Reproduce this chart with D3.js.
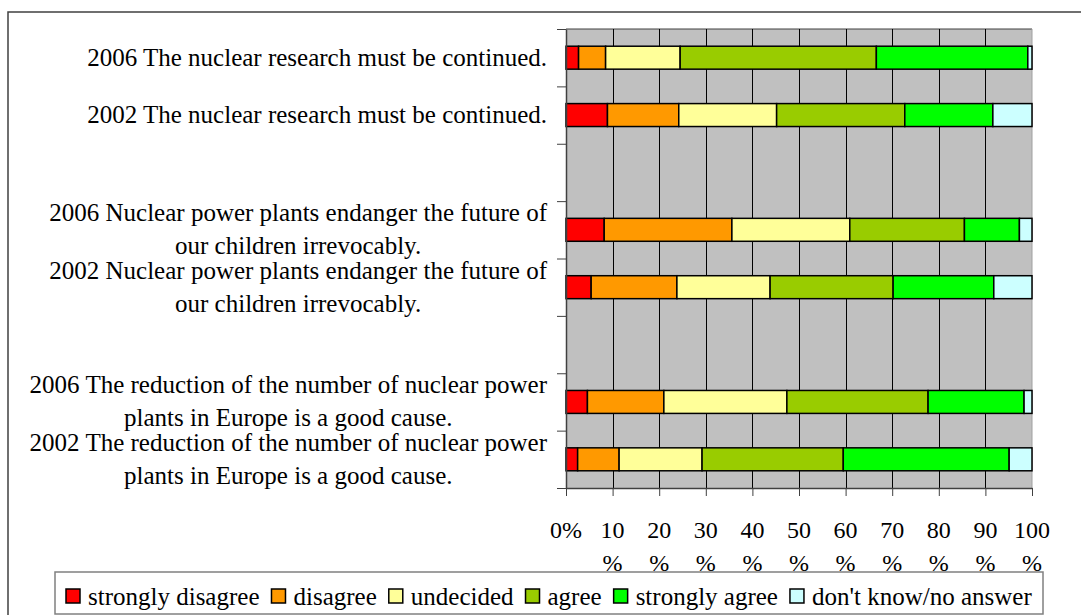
<!DOCTYPE html>
<html>
<head>
  <meta charset="utf-8">
  <title>Nuclear opinion 2002 / 2006</title>
  <script src="https://d3js.org/d3.v7.min.js"></script>
  <style>
    body { margin: 0; background: #fff; }
    text { font-family: "Liberation Serif", "Times New Roman", serif; fill: #000; }
  </style>
</head>
<body>
<script>
// categories, top to bottom (empty rows are spacer categories)
var categories = [
  ["2006 The nuclear research must be continued."],
  ["2002 The nuclear research must be continued."],
  [""],
  ["2006 Nuclear power plants endanger the future of", "our children irrevocably."],
  ["2002 Nuclear power plants endanger the future of", "our children irrevocably."],
  [""],
  ["2006 The reduction of the number of nuclear power", "plants in Europe is a good cause."],
  ["2002 The reduction of the number of nuclear power", "plants in Europe is a good cause."]
];

// answers in %, one value per category
var stronglyDisagree = [2.7, 8.9, 0, 8.2, 5.4, 0, 4.6, 2.5];
var disagree         = [5.8, 15.3, 0, 27.4, 18.4, 0, 16.4, 8.9];
var undecided        = [16.0, 21.0, 0, 25.3, 20.0, 0, 26.4, 17.8];
var agree            = [42.1, 27.5, 0, 24.6, 26.4, 0, 30.3, 30.3];
var stronglyAgree    = [32.5, 18.9, 0, 11.8, 21.6, 0, 20.6, 35.6];
var dontKnow         = [0.9, 8.4, 0, 2.7, 8.2, 0, 1.7, 4.9];

var seriesNames = ["strongly disagree", "disagree", "undecided", "agree", "strongly agree", "don't know/no answer"];
var seriesColors = ["#ff0000", "#ff9900", "#ffff99", "#99cc00", "#00ff00", "#ccffff"];
var xTicks = [0, 10, 20, 30, 40, 50, 60, 70, 80, 90, 100];

var width = 1081, height = 615;
var margin = { top: 29, bottom: 127, left: 566, right: 49 };

// build table for the stack
var seriesValues = [stronglyDisagree, disagree, undecided, agree, stronglyAgree, dontKnow];
var table = categories.map(function(c, i) {
  var row = { idx: i };
  seriesNames.forEach(function(s, j) { row[s] = seriesValues[j][i]; });
  return row;
});
var stacked = d3.stack().keys(seriesNames)(table);

var svg = d3.select("body").append("svg").attr("width", width).attr("height", height);

// outer chart frame
svg.append("rect")
  .attr("x", 8).attr("y", 12).attr("width", 1200).attr("height", 700)
  .attr("fill", "#fff").attr("stroke", "#404040").attr("stroke-width", 1.5);

var x = d3.scaleLinear().domain([0, 100]).range([margin.left, width - margin.right]);
var y = d3.scaleBand().domain(d3.range(categories.length))
  .range([margin.top, height - margin.bottom]).paddingInner(0.6).paddingOuter(0.3);
var yEdge = d3.scaleLinear().domain([0, categories.length]).range([margin.top, height - margin.bottom]);

var plotTop = margin.top, plotBottom = height - margin.bottom;

// plot area
svg.append("rect")
  .attr("x", x(0)).attr("y", plotTop)
  .attr("width", x(100) - x(0)).attr("height", plotBottom - plotTop)
  .attr("fill", "#c0c0c0");
svg.append("line").attr("x1", x(0)).attr("x2", x(100)).attr("y1", plotTop).attr("y2", plotTop)
  .attr("stroke", "#404040").attr("stroke-width", 1);
svg.append("line").attr("x1", x(100)).attr("x2", x(100)).attr("y1", plotTop).attr("y2", plotBottom)
  .attr("stroke", "#a0a0a0").attr("stroke-width", 1);

// gridlines
svg.append("g").selectAll("line")
  .data(xTicks.slice(1, -1))
  .enter().append("line")
  .attr("x1", function(d) { return Math.round(x(d)) + 0.5; })
  .attr("x2", function(d) { return Math.round(x(d)) + 0.5; })
  .attr("y1", plotTop).attr("y2", plotBottom)
  .attr("stroke", "#000").attr("stroke-width", 1);

// bars
svg.append("g").selectAll("g")
  .data(stacked)
  .enter().append("g")
  .attr("fill", function(d, i) { return seriesColors[i]; })
  .selectAll("rect")
  .data(function(d) { return d.filter(function(p) { return p[1] - p[0] > 0; }); })
  .enter().append("rect")
  .attr("x", function(d) { return x(d[0]); })
  .attr("width", function(d) { return x(d[1]) - x(d[0]); })
  .attr("y", function(d) { return y(d.data.idx); })
  .attr("height", y.bandwidth())
  .attr("stroke", "#000").attr("stroke-width", 1.5);

// x axis
var axisx = d3.axisBottom(x).tickValues(xTicks).tickSizeInner(8).tickSizeOuter(0).tickFormat("");
var gx = svg.append("g")
  .attr("transform", "translate(0," + plotBottom + ")")
  .call(axisx);
gx.select(".domain").attr("stroke", "#404040").attr("stroke-width", 1.5);
gx.selectAll(".tick line").attr("stroke", "#404040");

svg.append("g").selectAll("text")
  .data(xTicks)
  .enter().append("text")
  .attr("text-anchor", "middle")
  .attr("font-size", "24px")
  .each(function(d) {
    var t = d3.select(this);
    var lines = d === 0 ? ["0%"] : [String(d), "%"];
    lines.forEach(function(l, k) {
      t.append("tspan").attr("x", x(d)).attr("y", plotBottom + 50 + k * 33).text(l);
    });
  });

// y axis
var axisy = d3.axisLeft(yEdge).tickValues(d3.range(categories.length + 1)).tickSizeInner(9).tickSizeOuter(0).tickFormat("");
var gy = svg.append("g")
  .attr("transform", "translate(" + margin.left + ",0)")
  .call(axisy);
gy.select(".domain").attr("stroke", "#404040").attr("stroke-width", 1.5);
gy.selectAll(".tick line").attr("stroke", "#404040");

// category labels: block right-aligned, lines centred inside the block
var labelRight = 547;
svg.append("g").selectAll("text")
  .data(categories)
  .enter().append("text")
  .attr("font-size", "25px")
  .attr("text-anchor", "middle")
  .each(function(lines, i) {
    var t = d3.select(this);
    var cy = y(i) + y.bandwidth() / 2;
    var spans = lines.map(function(l, k) {
      return t.append("tspan")
        .attr("y", cy + 8 + (k - (lines.length - 1) / 2) * 33)
        .text(l);
    });
    var w = d3.max(spans, function(s) { return s.node().getComputedTextLength(); });
    spans.forEach(function(s) { s.attr("x", labelRight - w / 2); });
  });

// legend
var legend = svg.append("g");
legend.append("rect")
  .attr("x", 55).attr("y", 572).attr("width", 988).attr("height", 42)
  .attr("fill", "#fff").attr("stroke", "#808080").attr("stroke-width", 1.5);

var lx = 66;
seriesNames.forEach(function(name, i) {
  legend.append("rect")
    .attr("x", lx).attr("y", 589).attr("width", 14).attr("height", 14)
    .attr("fill", seriesColors[i]).attr("stroke", "#000").attr("stroke-width", 1.5);
  var t = legend.append("text")
    .attr("x", lx + 22).attr("y", 605)
    .attr("font-size", "25px")
    .text(name);
  lx = lx + 22 + t.node().getComputedTextLength() + 12;
});
</script>
</body>
</html>
